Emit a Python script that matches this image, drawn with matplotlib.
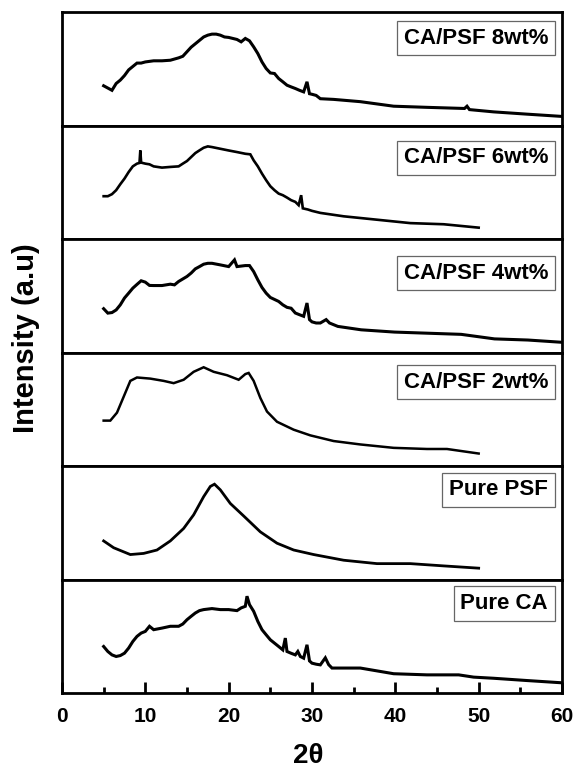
import matplotlib
matplotlib.use("Agg")
import matplotlib.pyplot as plt
from matplotlib.ticker import MultipleLocator

plt.rcParams['font.family'] = ['Liberation Sans', 'DejaVu Sans']
plt.rcParams['font.weight'] = 'bold'

# ---- data (2theta, relative intensity in % of panel height) ----
x_8wt = [5.0, 5.5, 6.0, 6.5, 7.0, 7.5, 8.0, 8.5, 9.0, 9.5, 10, 11, 12, 13, 14, 14.5, 15, 15.5, 16, 16.5,
         17, 17.5, 18, 18.5, 19, 19.5, 20, 20.5, 21, 21.5, 22, 22.5, 23, 23.5, 24, 24.5, 25, 25.5, 26,
         26.5, 27, 27.5, 28, 28.5, 29, 29.4, 29.7, 30, 30.5, 31, 32.6, 35.8, 39.8, 43.8, 48.3, 48.6, 48.9,
         51.8, 55.8, 60.0]
y_8wt = [35, 33, 31, 37, 40, 44, 49, 52, 55, 55, 56, 57, 57, 57.5, 59.6, 61, 65, 69, 72, 75,
         78, 79.6, 80.5, 80.5, 79.6, 78, 77.6, 76.7, 75.8, 73.7, 76.7, 74.6, 69.3, 63.4, 56, 50.2, 46.3, 45.8, 41.4,
         38.5, 35.5, 34, 32.6, 31, 29.6, 38.5, 28, 27.5, 26.5, 23.6, 23, 21, 17, 16, 15, 17, 14,
         12, 10, 8]

x_6wt = [5.0, 5.5, 6.0, 6.5, 7.0, 7.5, 8.0, 8.5, 9.0, 9.3, 9.4, 9.5, 10, 10.5, 11, 12, 13, 14, 14.5, 15,
         15.5, 16, 16.5, 17, 17.5, 18, 19, 20, 21, 22, 22.6, 23, 23.5, 24, 24.5, 25, 25.5, 26, 26.5, 27,
         27.5, 28, 28.4, 28.7, 28.9, 29.5, 30, 31, 33.8, 37.8, 41.8, 45.8, 50.0]
y_6wt = [37.7, 37.7, 39.5, 43, 48.3, 53.2, 59, 64, 66.4, 67, 78, 67.3, 66.4, 65.8, 64, 62.9, 63.5, 64, 66.4, 68.7,
         72.2, 75.7, 78.1, 80.4, 81.6, 81, 79.5, 78, 76.6, 75.1, 74.6, 69.3, 64, 57.6, 51.8, 46.5, 43, 40, 38.6, 36.5,
         34.2, 32.7, 29.8, 38.6, 27, 26, 24.8, 23, 20, 17, 14, 13, 10]

x_4wt = [5.0, 5.5, 6.0, 6.5, 7.0, 7.5, 8.0, 8.5, 9.0, 9.5, 10, 10.5, 11, 12, 13, 13.5, 14, 15, 15.5, 16,
         16.5, 17, 17.5, 18, 19, 20, 20.7, 21, 22, 22.5, 23, 23.5, 24, 24.5, 25, 26, 26.5, 27, 27.5, 28,
         28.5, 29, 29.4, 29.7, 30, 30.5, 31, 31.7, 32.1, 33.1, 35.9, 39.9, 43.9, 47.9, 51.9, 55.9, 60.0]
y_4wt = [38.6, 34.7, 35.2, 37.5, 42, 48, 52.3, 56.7, 60, 63.2, 62, 59.1, 59, 59, 60.2, 59.6, 62.6, 67, 70, 73.7,
         75.7, 77.8, 78.6, 78.6, 77.2, 75.7, 81.6, 75.7, 76.6, 76.6, 71.3, 64, 57.3, 52.3, 48.5, 45, 42, 39.8, 39, 34.8,
         33.3, 31.9, 43.6, 29, 27, 26, 26, 29, 26, 23, 20, 18, 17, 16, 12, 11, 9]

x_2wt = [5.0, 5.8, 6.6, 7.4, 8.2, 9.0, 10.6, 12.2, 13.4, 14.6, 15.8, 17.0, 18.2, 19.8, 21.2, 22.0, 22.4, 23.0,
         23.8, 24.6, 25.8, 27.8, 29.8, 32.6, 35.8, 39.8, 43.8, 46.2, 50.0]
y_2wt = [40, 40, 47, 61, 75, 78, 77, 75, 73, 76, 83, 87, 83, 80, 76, 81, 82, 75,
         60, 48, 39, 32, 27, 22, 19, 16, 15, 15, 11]

x_psf = [5.0, 6.2, 8.2, 9.8, 11.4, 13.0, 14.6, 15.8, 17.0, 17.8, 18.3, 19.0, 20.2, 21.8, 23.8, 25.8,
         27.8, 30.2, 33.8, 37.8, 41.8, 45.8, 50.0]
y_psf = [34, 28, 22, 23, 26, 34, 45, 57, 73, 82, 84, 79, 67, 56, 42, 32,
         26, 22, 17, 14, 14, 12, 10]

x_ca = [5.0, 5.5, 6.0, 6.5, 7.0, 7.5, 8.0, 8.5, 9.0, 9.5, 10, 10.5, 11, 12, 13, 14, 14.5, 15, 15.5, 16,
        16.5, 17, 18, 19, 20, 21, 21.5, 22, 22.2, 22.5, 23, 23.5, 24, 24.5, 25, 26, 26.5, 26.8, 27, 27.5,
        28, 28.3, 28.6, 29, 29.4, 29.7, 30, 30.5, 31, 31.6, 32.0, 32.4, 35.8, 39.8, 43.8, 47.6, 49.4,
        51.8, 55.8, 60.0]
y_ca = [41, 36.6, 33.6, 32.2, 33, 35.1, 39.6, 45.4, 49.9, 52.8, 54.3, 58.8, 55.8, 57.2, 58.8, 58.8, 60.8, 64.6, 67.6, 70.5,
        72.6, 73.5, 74.4, 73.5, 73.5, 72.6, 75, 76.4, 85.3, 77.9, 72, 63.1, 55.8, 51.3, 46.9, 41, 38, 48.4, 36.6, 35,
        33.6, 36.6, 32.2, 30.7, 42.5, 28.3, 26.3, 25.4, 24.8, 31, 25, 22, 22, 17, 16, 16, 14,
        13, 11, 9]

labels = ["CA/PSF 8wt%", "CA/PSF 6wt%", "CA/PSF 4wt%", "CA/PSF 2wt%", "Pure PSF", "Pure CA"]
series_x = [x_8wt, x_6wt, x_4wt, x_2wt, x_psf, x_ca]
series_y = [y_8wt, y_6wt, y_4wt, y_2wt, y_psf, y_ca]
label_ypos = [0.77, 0.715, 0.70, 0.74, 0.79, 0.79]
line_w = [2.2, 1.9, 2.2, 1.8, 2.0, 2.2]

fig = plt.figure(figsize=(5.76, 7.69), dpi=100)
gs = fig.add_gridspec(6, 1, left=0.1076, right=0.9757, bottom=0.0988, top=0.9844, hspace=0)
axes = [fig.add_subplot(gs[i]) for i in range(6)]

for i, ax in enumerate(axes):
    ax.plot(series_x[i], series_y[i], color='black', lw=line_w[i], solid_joinstyle='miter')
    ax.set_xlim(0, 60)
    ax.set_ylim(0, 100)
    ax.set_yticks([])
    for s in ax.spines.values():
        s.set_linewidth(2.0)
    ax.text(0.972, label_ypos[i], labels[i], transform=ax.transAxes, ha='right', va='center',
            fontsize=16, fontweight='bold',
            bbox=dict(boxstyle='square,pad=0.3', facecolor='white', edgecolor='#666666', linewidth=0.9))
    if i < 5:
        ax.tick_params(axis='x', which='both', bottom=False, labelbottom=False)
    else:
        ax.xaxis.set_major_locator(MultipleLocator(10))
        ax.xaxis.set_minor_locator(MultipleLocator(5))
        ax.tick_params(axis='x', which='major', direction='in', length=8, width=2, pad=10, labelsize=15)
        ax.tick_params(axis='x', which='minor', direction='in', length=4.5, width=2)
        for lab in ax.get_xticklabels():
            lab.set_fontweight('bold')

fig.text(0.535, 0.0165, '2θ', ha='center', va='center', fontsize=20, fontweight='bold')
fig.text(0.045, 0.56, 'Intensity (a.u)', rotation=90, ha='center', va='center', fontsize=21, fontweight='bold')

fig.savefig('out.png', dpi=100)
